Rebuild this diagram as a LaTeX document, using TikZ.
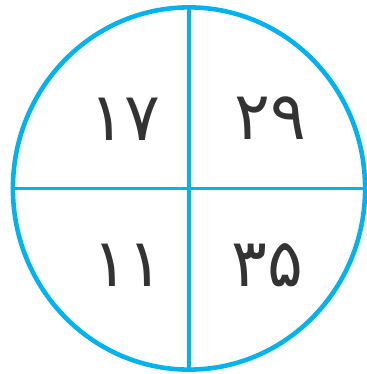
\documentclass[tikz,border=0pt]{standalone}
\usepackage{fontspec}
\usetikzlibrary{shapes.geometric}
\newfontfamily\arabicfont[Script=Arabic]{DejaVu Sans}
\definecolor{ringblue}{RGB}{0,178,238}

\begin{document}
\begin{tikzpicture}[
        x=0.01cm, y=-0.01cm,
        ring/.style={draw=ringblue, ellipse, line width=1.3pt, minimum width=3.52cm, minimum height=3.62cm, inner sep=0pt, outer sep=0pt},
        split/.style={draw=ringblue, line width=1.0pt},
        num/.style={font=\arabicfont\fontsize{19}{22}\selectfont, text=black!80}
    ]
        \useasboundingbox (0,0) rectangle (366,374);
        \node[ring] (disc) at (189,188.5) {};
        \draw[split] (disc.north) -- (disc.south);
        \draw[split] (disc.west)  -- (disc.east);

        \node[num] (tl) at (125,119) {۱۷};
        \node[num] (tr) at (270,118) {۲۹};
        \node[num] (bl) at (128,265) {۱۱};
        \node[num] (br) at (267,265) {۳۵};
    \end{tikzpicture}
\end{document}
